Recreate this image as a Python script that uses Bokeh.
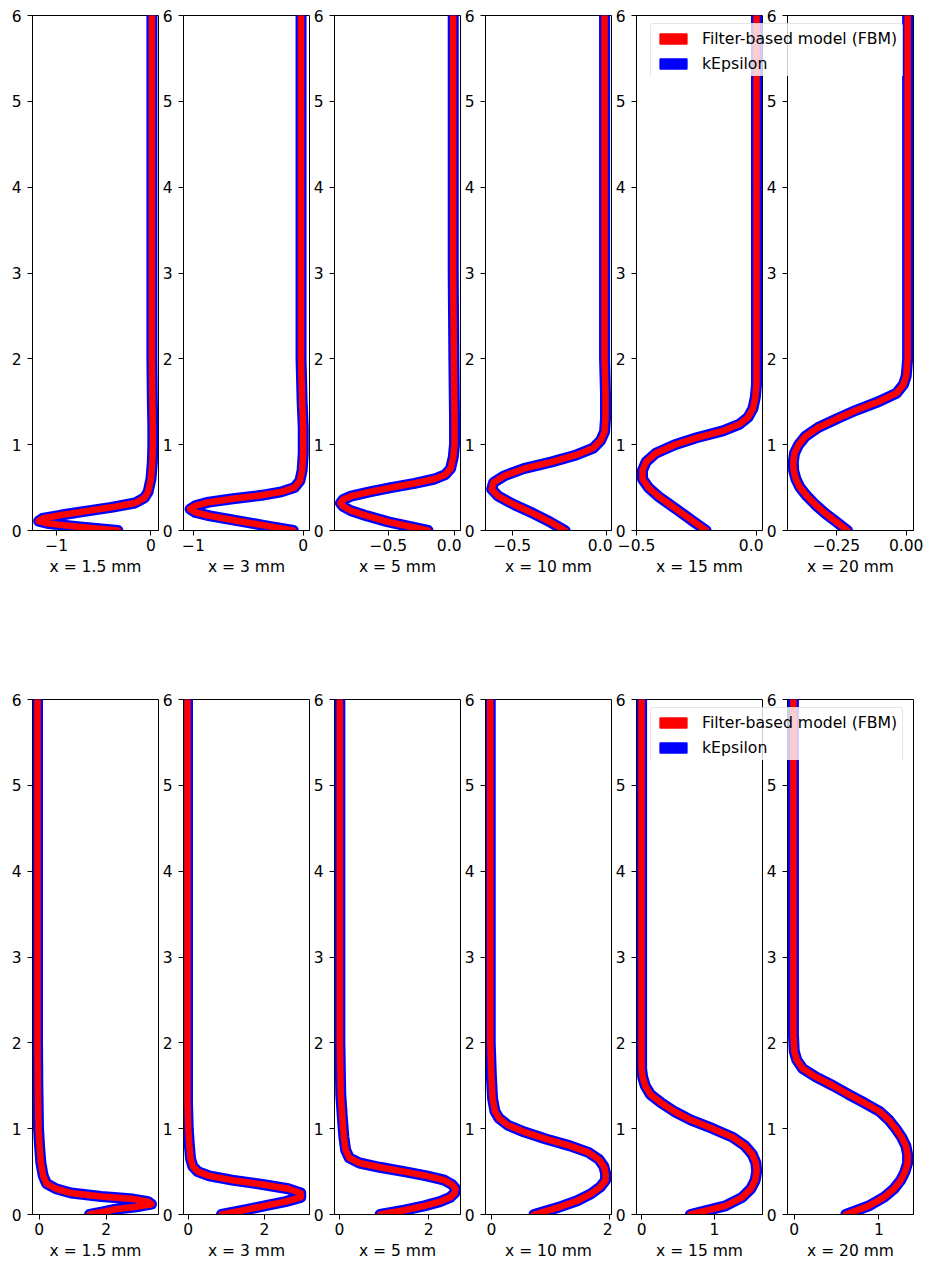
from bokeh.plotting import figure
from bokeh.layouts import row, column
from bokeh.models import Range1d, FixedTicker, CustomJSTickFormatter, Legend, LegendItem
from bokeh.embed import file_html
from bokeh.resources import INLINE

# ---------------- data ----------------
positions = ["x = 1.5 mm", "x = 3 mm", "x = 5 mm", "x = 10 mm", "x = 15 mm", "x = 20 mm"]
series_names = ["Filter-based model (FBM)", "kEpsilon"]

# top row profiles (y = height, x = value)
top_y_1_5 = [0, 0.04, 0.08, 0.11, 0.14, 0.18, 0.22, 0.27, 0.32, 0.38, 0.45, 0.6, 0.8, 1.0, 1.2, 1.5, 2, 3, 4, 5, 6]
top_x_1_5 = [-0.35, -0.75, -1.08, -1.19, -1.15, -0.95, -0.72, -0.42, -0.17, -0.07, -0.03, 0.0, 0.015, 0.02, 0.02, 0.015, 0.01, 0.01, 0.01, 0.01, 0.01]
top_y_3 = [0, 0.06, 0.12, 0.17, 0.21, 0.25, 0.29, 0.33, 0.37, 0.41, 0.45, 0.5, 0.58, 0.7, 0.9, 1.2, 1.5, 2, 3, 4, 5, 6]
top_x_3 = [-0.09, -0.36, -0.63, -0.85, -0.98, -1.03, -0.98, -0.86, -0.64, -0.38, -0.2, -0.08, -0.03, -0.01, 0.0, 0.0, -0.01, -0.02, -0.02, -0.02, -0.02, -0.02]
top_y_5 = [0, 0.05, 0.1, 0.17, 0.23, 0.28, 0.32, 0.36, 0.4, 0.45, 0.5, 0.55, 0.6, 0.65, 0.72, 0.85, 1.0, 1.3, 2, 3, 4, 5, 6]
top_x_5 = [-0.2, -0.35, -0.5, -0.66, -0.78, -0.84, -0.86, -0.84, -0.78, -0.64, -0.48, -0.3, -0.15, -0.07, -0.03, -0.01, 0.0, 0.0, -0.005, -0.01, -0.01, -0.01, -0.01]
top_y_10 = [0, 0.1, 0.2, 0.3, 0.4, 0.48, 0.56, 0.64, 0.72, 0.8, 0.88, 0.96, 1.05, 1.15, 1.3, 1.6, 2, 3, 4, 5, 6]
top_x_10 = [-0.22, -0.3, -0.39, -0.49, -0.575, -0.61, -0.6, -0.54, -0.44, -0.29, -0.16, -0.07, -0.03, -0.01, -0.005, -0.005, -0.01, -0.01, -0.01, -0.01, -0.01]
top_y_15 = [0, 0.1, 0.2, 0.3, 0.4, 0.5, 0.6, 0.7, 0.8, 0.9, 1.0, 1.08, 1.16, 1.24, 1.32, 1.42, 1.55, 1.7, 2, 3, 4, 5, 6]
top_x_15 = [-0.21, -0.26, -0.31, -0.36, -0.41, -0.45, -0.475, -0.475, -0.46, -0.42, -0.34, -0.25, -0.14, -0.07, -0.035, -0.015, -0.005, 0.0, 0.0, 0.0, 0.0, 0.0, 0.0]
top_y_20 = [0, 0.1, 0.2, 0.3, 0.4, 0.5, 0.6, 0.7, 0.8, 0.9, 1.0, 1.1, 1.2, 1.3, 1.4, 1.5, 1.6, 1.7, 1.8, 2, 3, 4, 5, 6]
top_x_20 = [-0.21, -0.25, -0.29, -0.325, -0.355, -0.38, -0.395, -0.403, -0.404, -0.4, -0.385, -0.36, -0.315, -0.25, -0.18, -0.1, -0.035, -0.01, 0.0, 0.005, 0.005, 0.005, 0.005, 0.005]

# bottom row profiles
bot_y_1_5 = [0, 0.03, 0.06, 0.09, 0.12, 0.15, 0.18, 0.21, 0.25, 0.3, 0.36, 0.45, 0.6, 0.8, 1.0, 1.5, 2, 3, 4, 5, 6]
bot_x_1_5 = [1.5, 1.9, 2.25, 2.9, 3.35, 3.25, 2.8, 1.85, 0.95, 0.5, 0.22, 0.12, 0.05, 0.01, -0.02, -0.04, -0.05, -0.05, -0.05, -0.05, -0.05]
bot_y_3 = [0, 0.05, 0.1, 0.15, 0.2, 0.25, 0.3, 0.35, 0.4, 0.45, 0.5, 0.56, 0.65, 0.8, 1.0, 1.3, 2, 3, 4, 5, 6]
bot_x_3 = [0.87, 1.45, 2.0, 2.55, 2.95, 2.95, 2.62, 1.95, 1.15, 0.55, 0.25, 0.12, 0.06, 0.03, 0.0, -0.02, -0.02, -0.02, -0.02, -0.02, -0.02]
bot_y_5 = [0, 0.05, 0.1, 0.15, 0.2, 0.25, 0.3, 0.35, 0.4, 0.45, 0.5, 0.55, 0.6, 0.66, 0.75, 0.9, 1.1, 1.4, 2, 3, 4, 5, 6]
bot_x_5 = [0.91, 1.45, 1.9, 2.25, 2.48, 2.58, 2.6, 2.52, 2.35, 1.95, 1.45, 0.9, 0.45, 0.22, 0.14, 0.1, 0.07, 0.03, 0.01, 0.01, 0.01, 0.01, 0.01]
bot_y_10 = [0, 0.08, 0.16, 0.24, 0.32, 0.4, 0.48, 0.56, 0.64, 0.72, 0.8, 0.88, 0.96, 1.04, 1.12, 1.2, 1.35, 1.6, 2, 3, 4, 5, 6]
bot_x_10 = [0.72, 1.12, 1.45, 1.68, 1.84, 1.93, 1.93, 1.9, 1.82, 1.65, 1.33, 0.92, 0.56, 0.28, 0.13, 0.06, 0.02, 0.0, -0.02, -0.02, -0.02, -0.02, -0.02]
bot_y_15 = [0, 0.1, 0.2, 0.3, 0.4, 0.5, 0.6, 0.7, 0.8, 0.9, 1.0, 1.1, 1.2, 1.3, 1.4, 1.5, 1.6, 1.7, 2, 3, 4, 5, 6]
bot_x_15 = [0.67, 1.15, 1.38, 1.5, 1.56, 1.58, 1.57, 1.52, 1.42, 1.25, 0.98, 0.68, 0.45, 0.27, 0.12, 0.05, 0.015, 0.0, 0.0, 0.0, 0.0, 0.0, 0.0]
bot_y_20 = [0, 0.1, 0.2, 0.3, 0.4, 0.5, 0.6, 0.7, 0.8, 0.9, 1.0, 1.1, 1.2, 1.3, 1.4, 1.5, 1.6, 1.7, 1.8, 1.9, 2.1, 3, 4, 5, 6]
bot_x_20 = [0.61, 0.88, 1.06, 1.18, 1.26, 1.31, 1.34, 1.34, 1.32, 1.27, 1.2, 1.12, 1.01, 0.83, 0.64, 0.46, 0.26, 0.1, 0.03, 0.0, -0.01, -0.01, -0.01, -0.01, -0.01]

# axis ranges and ticks
top_xranges = [(-1.255, 0.08), (-1.09, 0.057), (-0.905, 0.045), (-0.643, 0.027), (-0.5, 0.025), (-0.425, 0.026)]
bot_xranges = [(-0.2, 3.56), (-0.125, 3.18), (-0.11, 2.71), (-0.1, 2.03), (-0.07, 1.66), (-0.08, 1.41)]
top_xticks = [[-1, 0], [-1, 0], [-0.5, 0.0], [-0.5, 0.0], [-0.5, 0.0], [-0.25, 0.0]]
top_xticklabels = [["\u22121", "0"], ["\u22121", "0"], ["\u22120.5", "0.0"], ["\u22120.5", "0.0"], ["\u22120.5", "0.0"], ["\u22120.25", "0.00"]]
bot_xticks = [[0, 2], [0, 2], [0, 2], [0, 2], [0, 1], [0, 1]]
bot_xticklabels = [["0", "2"], ["0", "2"], ["0", "2"], ["0", "2"], ["0", "1"], ["0", "1"]]
yticks = [0, 1, 2, 3, 4, 5, 6]

top_profiles = [(top_x_1_5, top_y_1_5), (top_x_3, top_y_3), (top_x_5, top_y_5),
                (top_x_10, top_y_10), (top_x_15, top_y_15), (top_x_20, top_y_20)]
bot_profiles = [(bot_x_1_5, bot_y_1_5), (bot_x_3, bot_y_3), (bot_x_5, bot_y_5),
                (bot_x_10, bot_y_10), (bot_x_15, bot_y_15), (bot_x_20, bot_y_20)]

# ---------------- styling ----------------
FBM_COLOR = "#ff0000"
KE_COLOR = "#0000ff"
FONT = "DejaVu Sans"
FS = "15.5px"
FRAME_W = 126
FRAME_H = 515


def make_panel(xs, ys, xr, ticks, labels, xlabel, top_row, idx):
    p = figure(frame_width=FRAME_W, frame_height=FRAME_H,
               x_range=Range1d(*xr), y_range=Range1d(0, 6),
               toolbar_location=None, output_backend="svg",
               min_border_left=(32 if idx == 0 else 24),
               min_border_right=(10 if idx == 5 else 1),
               min_border_top=(15 if top_row else 109),
               min_border_bottom=(60 if top_row else 10),
               background_fill_color="white", border_fill_color="white")
    p.xgrid.visible = False
    p.ygrid.visible = False
    p.outline_line_color = "black"
    p.outline_line_width = 1
    # kEpsilon underneath (thicker, blue), FBM on top (red)
    p.line(xs, ys, line_color=KE_COLOR, line_width=11, line_join="round", line_cap="round")
    p.line(xs, ys, line_color=FBM_COLOR, line_width=6.5, line_join="round", line_cap="round")

    p.xaxis.ticker = FixedTicker(ticks=ticks)
    p.xaxis.formatter = CustomJSTickFormatter(
        args=dict(tv=ticks, tl=labels),
        code="for (let i = 0; i < tv.length; i++) { if (Math.abs(tv[i] - tick) < 1e-9) return tl[i]; } return '';")
    p.yaxis.ticker = FixedTicker(ticks=yticks)
    p.xaxis.axis_label = xlabel
    for ax in (p.xaxis, p.yaxis):
        ax.axis_line_color = "black"
        ax.major_tick_line_color = "black"
        ax.major_tick_out = 5
        ax.major_tick_in = 0
        ax.minor_tick_line_color = None
        ax.major_label_text_font = FONT
        ax.major_label_text_font_size = FS
        ax.major_label_text_color = "black"
        ax.axis_label_text_font = FONT
        ax.axis_label_text_font_size = FS
        ax.axis_label_text_font_style = "normal"
        ax.axis_label_text_color = "black"
    p.xaxis.major_label_standoff = 3
    p.xaxis.axis_label_standoff = 4
    p.yaxis.major_label_standoff = 6
    return p


def make_legend_fig(top_px):
    lf = figure(width=256, height=53, x_range=Range1d(0, 1), y_range=Range1d(0, 1),
                toolbar_location=None, output_backend="svg", min_border=0,
                x_axis_location=None, y_axis_location=None,
                outline_line_color=None, background_fill_alpha=0, border_fill_alpha=0,
                styles={"position": "absolute", "left": "650px", "top": f"{top_px}px"})
    lf.xgrid.visible = False
    lf.ygrid.visible = False
    # swatch-only renderers, placed outside the visible range
    r1 = lf.quad(left=[5], right=[6], top=[6], bottom=[5], fill_color=FBM_COLOR, line_color=FBM_COLOR)
    r2 = lf.quad(left=[5], right=[6], top=[6], bottom=[5], fill_color=KE_COLOR, line_color=KE_COLOR)
    leg = Legend(items=[LegendItem(label=series_names[0], renderers=[r1]),
                        LegendItem(label=series_names[1], renderers=[r2])],
                 location="top_left", margin=0, padding=5, spacing=6,
                 glyph_width=34, glyph_height=13, label_standoff=12,
                 label_text_font=FONT, label_text_font_size="15.7px", label_text_color="black",
                 border_line_color="#cccccc", border_line_width=1, border_radius=3,
                 background_fill_color="white", background_fill_alpha=0.8)
    lf.add_layout(leg)
    return lf


top_figs = []
for i, (xs, ys) in enumerate(top_profiles):
    top_figs.append(make_panel(xs, ys, top_xranges[i], top_xticks[i], top_xticklabels[i],
                               positions[i], True, i))
bot_figs = []
for i, (xs, ys) in enumerate(bot_profiles):
    bot_figs.append(make_panel(xs, ys, bot_xranges[i], bot_xticks[i], bot_xticklabels[i],
                               positions[i], False, i))

leg_top = make_legend_fig(23)
leg_bot = make_legend_fig(707)

root = column(row(*top_figs), row(*bot_figs), leg_top, leg_bot,
              styles={"position": "relative"})

open("out.html", "w").write(file_html(root, INLINE))
